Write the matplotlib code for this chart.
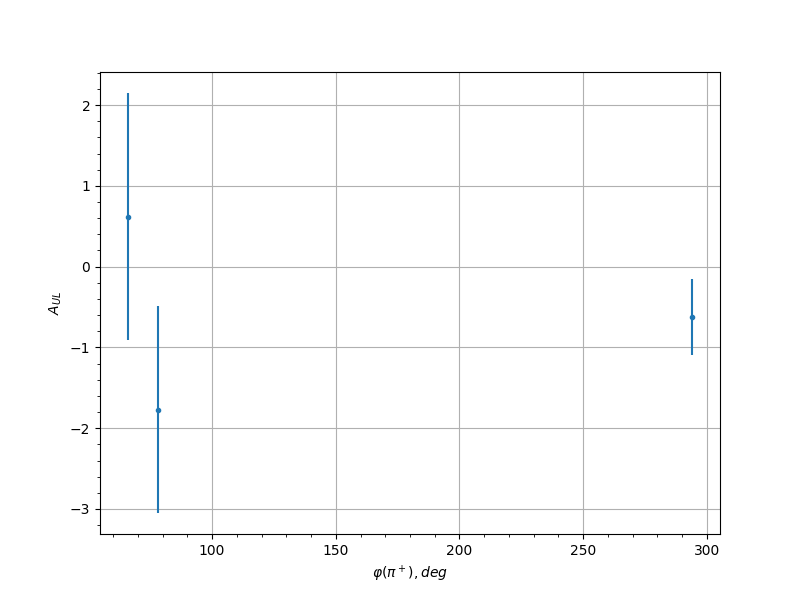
import matplotlib
matplotlib.use("Agg")
import matplotlib.pyplot as plt

phi = [66.1, 78.2, 293.9]
a_ul = [0.62, -1.77, -0.62]
a_err = [1.53, 1.28, 0.47]

fig, ax = plt.subplots(figsize=(8, 6), dpi=100)
ax.errorbar(phi, a_ul, yerr=a_err, fmt='.', color='#1f77b4')
ax.minorticks_on()
ax.grid(True, which='major')
ax.set_xlabel(r'$\varphi(\pi^+), deg$')
ax.set_ylabel(r'$A_{UL}$')
fig.savefig('out.png')
